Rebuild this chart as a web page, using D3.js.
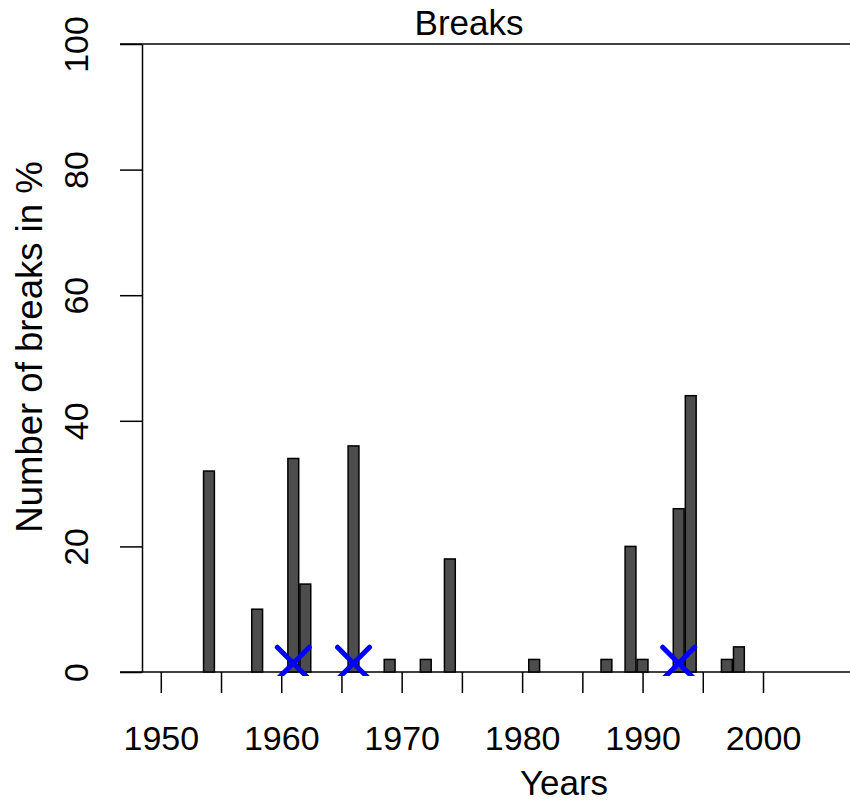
<!DOCTYPE html>
<html>
<head>
<meta charset="utf-8">
<script src="https://cdn.jsdelivr.net/npm/d3@7"></script>
<style>
  body { margin: 0; background: #fff; }
  svg { font-family: "Liberation Sans", Helvetica, Arial, sans-serif; }
</style>
</head>
<body>
<div id="chart"></div>
<script>
// break years and their share in %
const years = [1954, 1958, 1961, 1962, 1966, 1969, 1972, 1974, 1981, 1987, 1989, 1990, 1993, 1994, 1997, 1998];
const breaks = [32, 10, 34, 14, 36, 2, 2, 18, 2, 2, 20, 2, 26, 44, 2, 4];
// detected break points (blue crosses)
const markYears = [1961, 1966, 1993];
const markValue = 1.4;
const yTicks = [0, 20, 40, 60, 80, 100];
const xTicks = [1950, 1955, 1960, 1965, 1970, 1975, 1980, 1985, 1990, 1995, 2000];

const width = 850, height = 803;

let svg = d3.select("#chart").append("svg")
    .attr("width", width)
    .attr("height", height);

let x = d3.scaleLinear().domain([1950, 2000]).range([160.8, 763]);
let y = d3.scaleLinear().domain([0, 100]).range([672, 44]);

svg.append("defs").append("clipPath").attr("id", "plotClip")
    .append("rect")
    .attr("x", 120).attr("y", 40)
    .attr("width", 730).attr("height", 636);

// horizontal lines at 0 and 100
svg.selectAll("line.hline")
    .data([0, 100])
    .enter().append("line")
    .attr("class", "hline")
    .attr("x1", 120).attr("x2", width)
    .attr("y1", d => y(d)).attr("y2", d => y(d))
    .attr("stroke", "#000").attr("stroke-width", 1.5);

// bars
const halfW = 0.45;
svg.selectAll("rect.bar")
    .data(years)
    .enter().append("rect")
    .attr("class", "bar")
    .attr("x", d => x(d - halfW))
    .attr("width", d => x(d + halfW) - x(d - halfW))
    .attr("y", (d, i) => y(breaks[i]))
    .attr("height", (d, i) => y(0) - y(breaks[i]))
    .attr("fill", "#4d4d4d")
    .attr("stroke", "#000")
    .attr("stroke-width", 1.5);

// y axis
let yAxis = svg.append("g")
    .attr("transform", "translate(142,0)")
    .call(d3.axisLeft(y).tickValues(yTicks).tickSize(22).tickSizeOuter(0));
yAxis.select(".domain").attr("stroke-width", 1.5);
yAxis.selectAll(".tick line").attr("stroke-width", 1.5);
yAxis.selectAll(".tick text")
    .attr("x", null).attr("dy", null)
    .attr("text-anchor", "middle")
    .attr("transform", "translate(-54,0) rotate(-90)")
    .attr("font-size", 34)
    .attr("fill", "#000");

// x axis
let xAxis = svg.append("g")
    .attr("transform", "translate(0,672)")
    .call(d3.axisBottom(x).tickValues(xTicks).tickSize(21).tickSizeOuter(0)
        .tickFormat(d => d % 10 === 0 ? d : ""));
xAxis.select(".domain").remove();
xAxis.selectAll(".tick line").attr("stroke-width", 1.5);
xAxis.selectAll(".tick text")
    .attr("y", 78).attr("dy", null)
    .attr("font-size", 34)
    .attr("fill", "#000");

// blue crosses
let marks = svg.append("g").attr("clip-path", "url(#plotClip)");
const arm = 16;
markYears.forEach(yr => {
    let cx = x(yr), cy = y(markValue);
    marks.append("path")
        .attr("d", `M${cx - arm},${cy - arm}L${cx + arm},${cy + arm}M${cx - arm},${cy + arm}L${cx + arm},${cy - arm}`)
        .attr("stroke", "#0000ff")
        .attr("stroke-width", 5)
        .attr("stroke-linecap", "round")
        .attr("fill", "none");
});

// titles
svg.append("text")
    .attr("x", 469).attr("y", 35)
    .attr("text-anchor", "middle")
    .attr("font-size", 35)
    .text("Breaks");

svg.append("text")
    .attr("x", 564).attr("y", 795)
    .attr("text-anchor", "middle")
    .attr("font-size", 35)
    .text("Years");

svg.append("text")
    .attr("transform", "translate(42,347) rotate(-90)")
    .attr("text-anchor", "middle")
    .attr("font-size", 36.5)
    .text("Number of breaks in %");
</script>
</body>
</html>
